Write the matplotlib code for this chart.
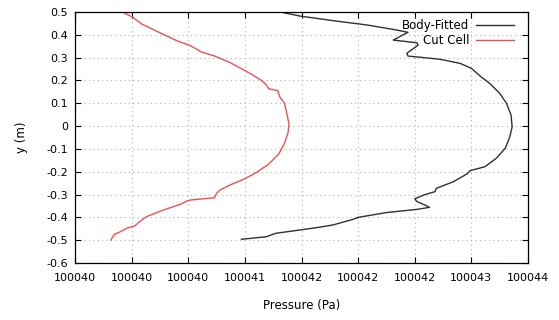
import matplotlib
matplotlib.use("Agg")
import matplotlib.pyplot as plt

# Body-Fitted series (pressure, y)
bf_p = [100041.34, 100041.49, 100041.78, 100042.08, 100042.34, 100042.44, 100042.31,
        100042.52, 100042.53, 100042.43, 100042.44, 100042.72, 100042.90, 100043.00,
        100043.09, 100043.16, 100043.25, 100043.31, 100043.35, 100043.36, 100043.34,
        100043.30, 100043.22, 100043.12, 100042.99, 100042.96, 100042.84, 100042.69,
        100042.68, 100042.58, 100042.50, 100042.52, 100042.59, 100042.63, 100042.52,
        100042.25, 100042.00, 100041.96, 100041.78, 100041.66, 100041.49, 100041.27,
        100041.19, 100040.97]
bf_y = [0.497, 0.482, 0.462, 0.443, 0.421, 0.411, 0.377,
        0.365, 0.355, 0.319, 0.307, 0.293, 0.275, 0.253,
        0.214, 0.188, 0.144, 0.100, 0.049, -0.003, -0.046,
        -0.097, -0.141, -0.178, -0.195, -0.210, -0.244, -0.273,
        -0.287, -0.302, -0.319, -0.331, -0.346, -0.356, -0.365,
        -0.379, -0.400, -0.408, -0.433, -0.443, -0.455, -0.470,
        -0.485, -0.496]

# Cut Cell series (pressure, y)
cc_p = [100039.93, 100040.01, 100040.09, 100040.25, 100040.40, 100040.52, 100040.59,
        100040.61, 100040.75, 100040.87, 100040.99, 100041.07, 100041.15, 100041.19,
        100041.21, 100041.29, 100041.31, 100041.35, 100041.37, 100041.39, 100041.38,
        100041.35, 100041.30, 100041.21, 100041.10, 100040.99, 100040.87, 100040.78,
        100040.75, 100040.73, 100040.52, 100040.49, 100040.44, 100040.28, 100040.13,
        100040.06, 100040.03, 100039.96, 100039.90, 100039.85, 100039.82, 100039.82]
cc_y = [0.497, 0.477, 0.447, 0.409, 0.374, 0.352, 0.333,
        0.326, 0.304, 0.278, 0.246, 0.224, 0.199, 0.180,
        0.164, 0.155, 0.126, 0.100, 0.056, 0.009, -0.032,
        -0.075, -0.122, -0.167, -0.204, -0.233, -0.258, -0.280,
        -0.295, -0.314, -0.324, -0.328, -0.341, -0.368, -0.397,
        -0.423, -0.437, -0.447, -0.463, -0.474, -0.496, -0.500]

x_ticks = [100039.5, 100040.0, 100040.5, 100041.0, 100041.5, 100042.0, 100042.5, 100043.0, 100043.5]
x_tick_labels = ["100040", "100040", "100040", "100041", "100042", "100042", "100042", "100043", "100044"]
y_ticks = [0.5, 0.4, 0.3, 0.2, 0.1, 0, -0.1, -0.2, -0.3, -0.4, -0.5, -0.6]
y_tick_labels = ["0.5", "0.4", "0.3", "0.2", "0.1", "0", "-0.1", "-0.2", "-0.3", "-0.4", "-0.5", "-0.6"]

plt.rcParams['font.family'] = ['DejaVu Sans']
fig = plt.figure(figsize=(5.59, 3.20), dpi=100)
ax = fig.add_axes([75/559, 1-263/320, (528-75)/559, (263-12)/320])

ax.plot(bf_p, bf_y, color='#303030', lw=1.0, label='Body-Fitted')
ax.plot(cc_p, cc_y, color='#f05050', lw=1.0, label='Cut Cell')

ax.set_xlim(x_ticks[0], x_ticks[-1])
ax.set_ylim(-0.6, 0.5)
ax.set_xticks(x_ticks)
ax.set_xticklabels(x_tick_labels)
ax.set_yticks(y_ticks)
ax.set_yticklabels(y_tick_labels)
ax.tick_params(direction='in', length=4, width=0.8, top=True, right=True,
               labelsize=8, colors='black')
ax.tick_params(axis='x', pad=7)
ax.tick_params(axis='y', pad=5)
ax.grid(True, color='#b0b0b0', linestyle=(0, (1, 3)), linewidth=0.8)
for s in ax.spines.values():
    s.set_linewidth(0.9)
    s.set_color('black')

ax.set_xlabel('Pressure (Pa)', fontsize=8.5, labelpad=12)
ax.set_ylabel('y (m)', fontsize=8.5, labelpad=13)

leg = ax.legend(loc='upper right', frameon=False, markerfirst=False, fontsize=8.5,
                handlelength=3.2, handletextpad=0.6, labelspacing=0.15,
                borderaxespad=0.2, bbox_to_anchor=(0.985, 1.0))
for t in leg.get_texts():
    t.set_ha('right')

fig.savefig('out.png', dpi=100)
